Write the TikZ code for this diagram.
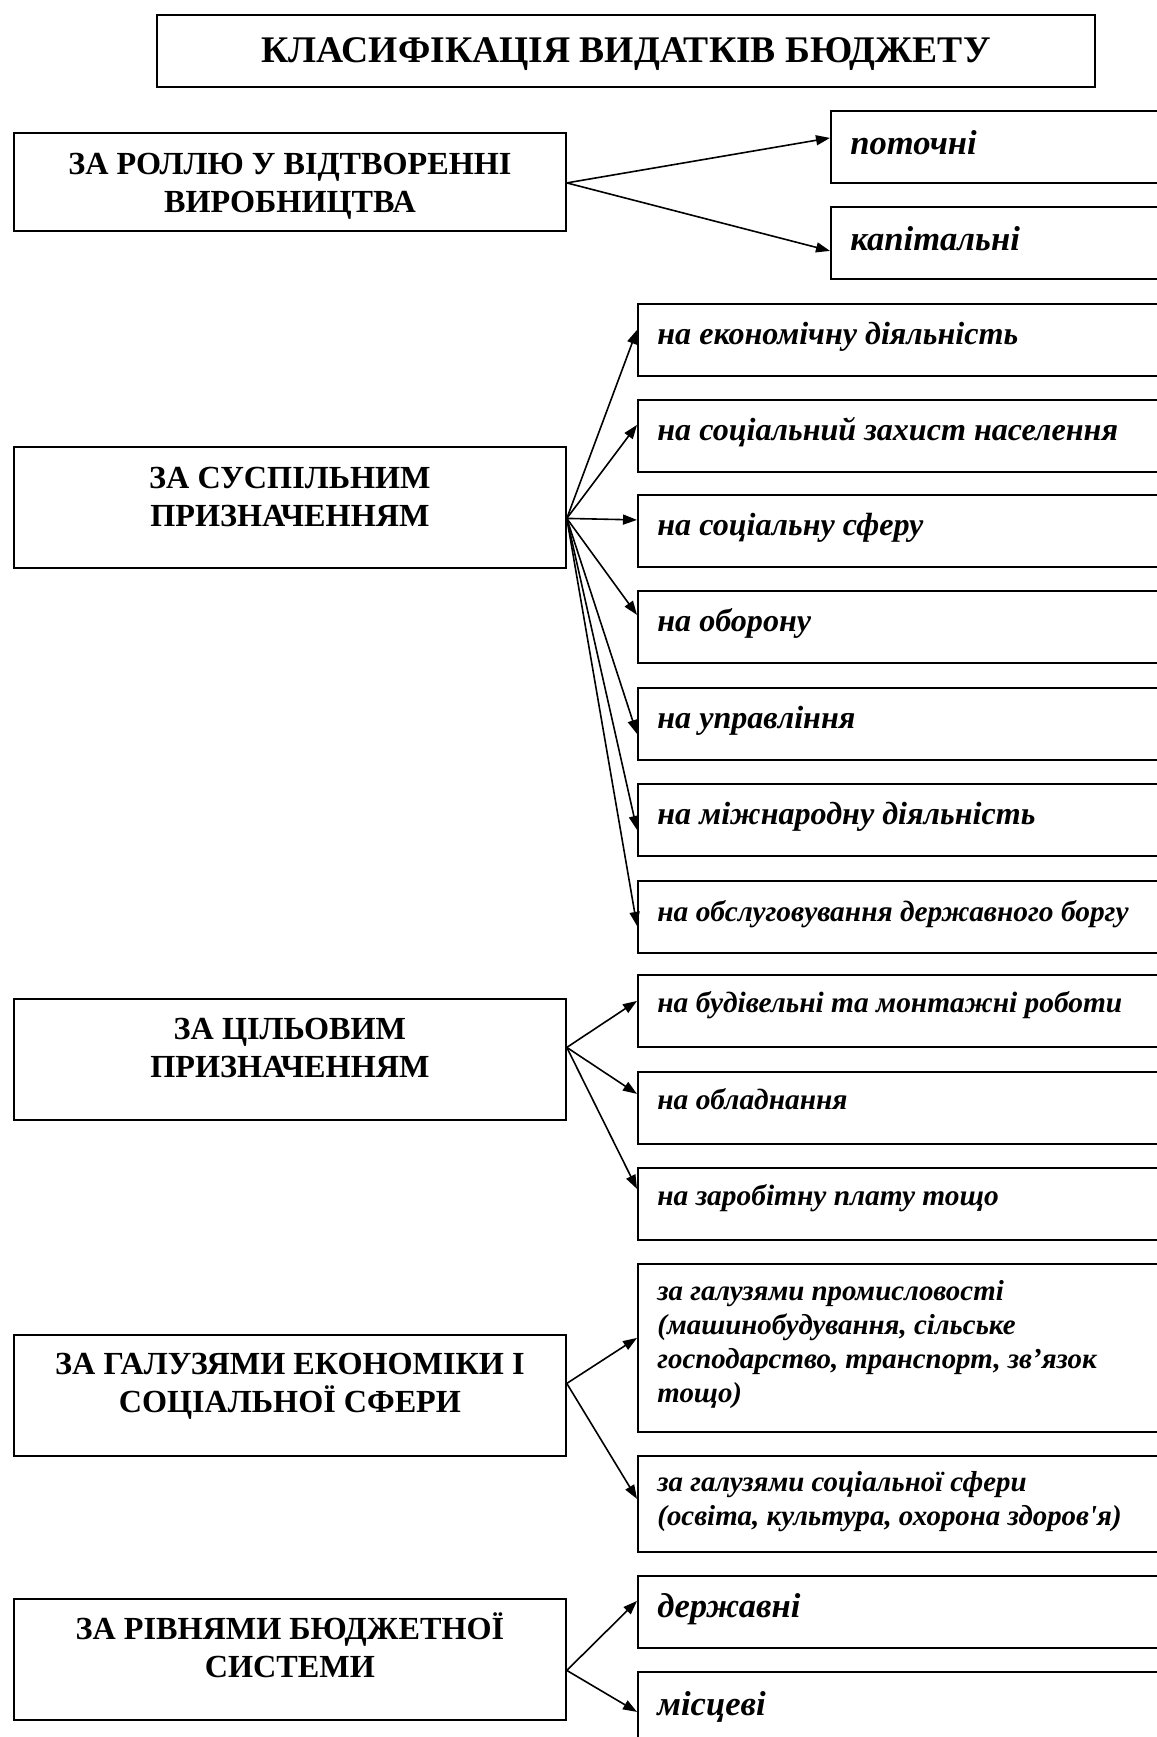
\documentclass[tikz,border=0pt]{standalone}
\usepackage{fontspec}
\setmainfont{Liberation Serif}
\usetikzlibrary{arrows.meta,calc}
\begin{document}
\begin{tikzpicture}[x=0.5pt,y=-0.5pt,
  frame/.style={draw, line width=0.9pt, inner sep=0pt, anchor=north west},
  lbl/.style={font=\bfseries\fontsize{16.1}{19}\selectfont, align=center, inner sep=0pt, anchor=base},
  itl/.style={font=\bfseries\itshape\fontsize{16.05}{19}\selectfont, inner sep=0pt, anchor=base west},
  itlsm/.style={font=\bfseries\itshape\fontsize{14.7}{17}\selectfont, inner sep=0pt, anchor=base west},
  itlbig/.style={font=\bfseries\itshape\fontsize{17.3}{21}\selectfont, inner sep=0pt, anchor=base west},
  itlml/.style={font=\bfseries\itshape\fontsize{14.45}{17}\selectfont, inner sep=0pt, anchor=base west, align=left},
  arr/.style={-{Triangle[length=7pt,width=5pt]}, line width=0.8pt}]
\useasboundingbox (0,0) rectangle (1157,1737);
\clip (0,0) rectangle (1157,1737);
% title
\node[frame, minimum width=469pt, minimum height=36pt] (T) at (156,14) {};
\node[font=\bfseries\fontsize{18.8}{21}\selectfont, inner sep=0pt, anchor=base] (Tt) at ($(T.north)+(0,48)$) {КЛАСИФІКАЦІЯ ВИДАТКІВ БЮДЖЕТУ};
% section 1
\node[frame, minimum width=276pt, minimum height=49pt] (L1) at (13,132) {};
\node[lbl] (L1t) at ($(L1.north)+(0,80)$) {ЗА РОЛЛЮ У ВІДТВОРЕННІ\\ВИРОБНИЦТВА};
\node[frame, minimum width=170pt, minimum height=36pt] (R11) at (830,110) {};
\node[frame, minimum width=170pt, minimum height=36pt] (R12) at (830,206) {};
\node[itlbig] (R11t) at ($(R11.north west)+(20,44)$) {поточні};
\node[itlbig] (R12t) at ($(R12.north west)+(20,44)$) {капітальні};
\draw[arr] ($(L1.east)+(0,1)$) -- ($(R11.west)+(0,-9)$);
\draw[arr] ($(L1.east)+(0,1)$) -- ($(R12.west)+(0,8)$);
% section 2
\node[frame, minimum width=276pt, minimum height=60.5pt] (L2) at (13,446) {};
\node[lbl] (L2t) at ($(L2.north)+(0,80)$) {ЗА СУСПІЛЬНИМ\\ПРИЗНАЧЕННЯМ};
\foreach \i/\y/\t/\s in {1/303/на економічну діяльність/itl,
                      2/399/на соціальний захист населення/itl,
                      3/494/на соціальну сферу/itl,
                      4/590/на оборону/itl,
                      5/687/на управління/itl,
                      6/783/на міжнародну діяльність/itl,
                      7/880/на обслуговування державного боргу/itlsm}{
  \node[frame, minimum width=266pt, minimum height=36pt] (R2\i) at (637,\y) {};
  \node[\s] (R2\i t) at ($(R2\i.north west)+(20,41)$) {\t};
}
\draw[arr] ($(L2.east)+(0,11)$) -- ($(R21.west)+(0,-10)$);
\draw[arr] ($(L2.east)+(0,11)$) -- ($(R22.west)+(0,-11)$);
\draw[arr] ($(L2.east)+(0,11)$) -- ($(R23.west)+(0,-11)$);
\draw[arr] ($(L2.east)+(0,11)$) -- ($(R24.west)+(0,-12)$);
\draw[arr] ($(L2.east)+(0,11)$) -- ($(R25.west)+(0,10)$);
\draw[arr] ($(L2.east)+(0,11)$) -- ($(R26.west)+(0,10)$);
\draw[arr] ($(L2.east)+(0,11)$) -- ($(R27.west)+(0,9)$);
% section 3
\node[frame, minimum width=276pt, minimum height=60.5pt] (L3) at (13,998) {};
\node[lbl] (L3t) at ($(L3.north)+(0,79)$) {ЗА ЦІЛЬОВИМ\\ПРИЗНАЧЕННЯМ};
\foreach \i/\y/\t in {1/974/на будівельні та монтажні роботи,
                      2/1071/на обладнання,
                      3/1167/на заробітну плату тощо}{
  \node[frame, minimum width=266pt, minimum height=36pt] (R3\i) at (637,\y) {};
  \node[itlsm] (R3\i t) at ($(R3\i.north west)+(20,38)$) {\t};
}
\draw[arr] ($(L3.east)+(0,-12)$) -- ($(R31.west)+(0,-10)$);
\draw[arr] ($(L3.east)+(0,-12)$) -- ($(R32.west)+(0,-14)$);
\draw[arr] ($(L3.east)+(0,-12)$) -- ($(R33.west)+(0,-15)$);
% section 4
\node[frame, minimum width=276pt, minimum height=60.5pt] (L4) at (13,1334) {};
\node[lbl] (L4t) at ($(L4.north)+(0,78)$) {ЗА ГАЛУЗЯМИ ЕКОНОМІКИ І\\СОЦІАЛЬНОЇ СФЕРИ};
\node[frame, minimum width=266pt, minimum height=84pt] (R41) at (637,1263) {};
\node[frame, minimum width=266pt, minimum height=48pt] (R42) at (637,1455) {};
\node[itlml] (R41t) at ($(R41.north west)+(20,139)$) {за галузями промисловості\\(машинобудування, сільське\\господарство, транспорт, зв’язок\\тощо)};
\node[itlml] (R42t) at ($(R42.north west)+(20,70)$) {за галузями соціальної сфери\\(освіта, культура, охорона здоров\textquotesingle я)};
\draw[arr] ($(L4.east)+(0,-12)$) -- ($(R41.west)+(0,-10)$);
\draw[arr] ($(L4.east)+(0,-12)$) -- ($(R42.west)+(0,-5)$);
% section 5
\node[frame, minimum width=276pt, minimum height=60.5pt] (L5) at (13,1598) {};
\node[lbl] (L5t) at ($(L5.north)+(0,79)$) {ЗА РІВНЯМИ БЮДЖЕТНОЇ\\СИСТЕМИ};
\node[frame, minimum width=266pt, minimum height=36pt] (R51) at (637,1575) {};
\node[frame, minimum width=266pt, minimum height=36pt] (R52) at (637,1671) {};
\node[itlbig] (R51t) at ($(R51.north west)+(20,42)$) {державні};
\node[itlbig] (R52t) at ($(R52.north west)+(20,44)$) {місцеві};
\draw[arr] ($(L5.east)+(0,11)$) -- ($(R51.west)+(0,-11)$);
\draw[arr] ($(L5.east)+(0,11)$) -- ($(R52.west)+(0,4)$);
\end{tikzpicture}
\end{document}
